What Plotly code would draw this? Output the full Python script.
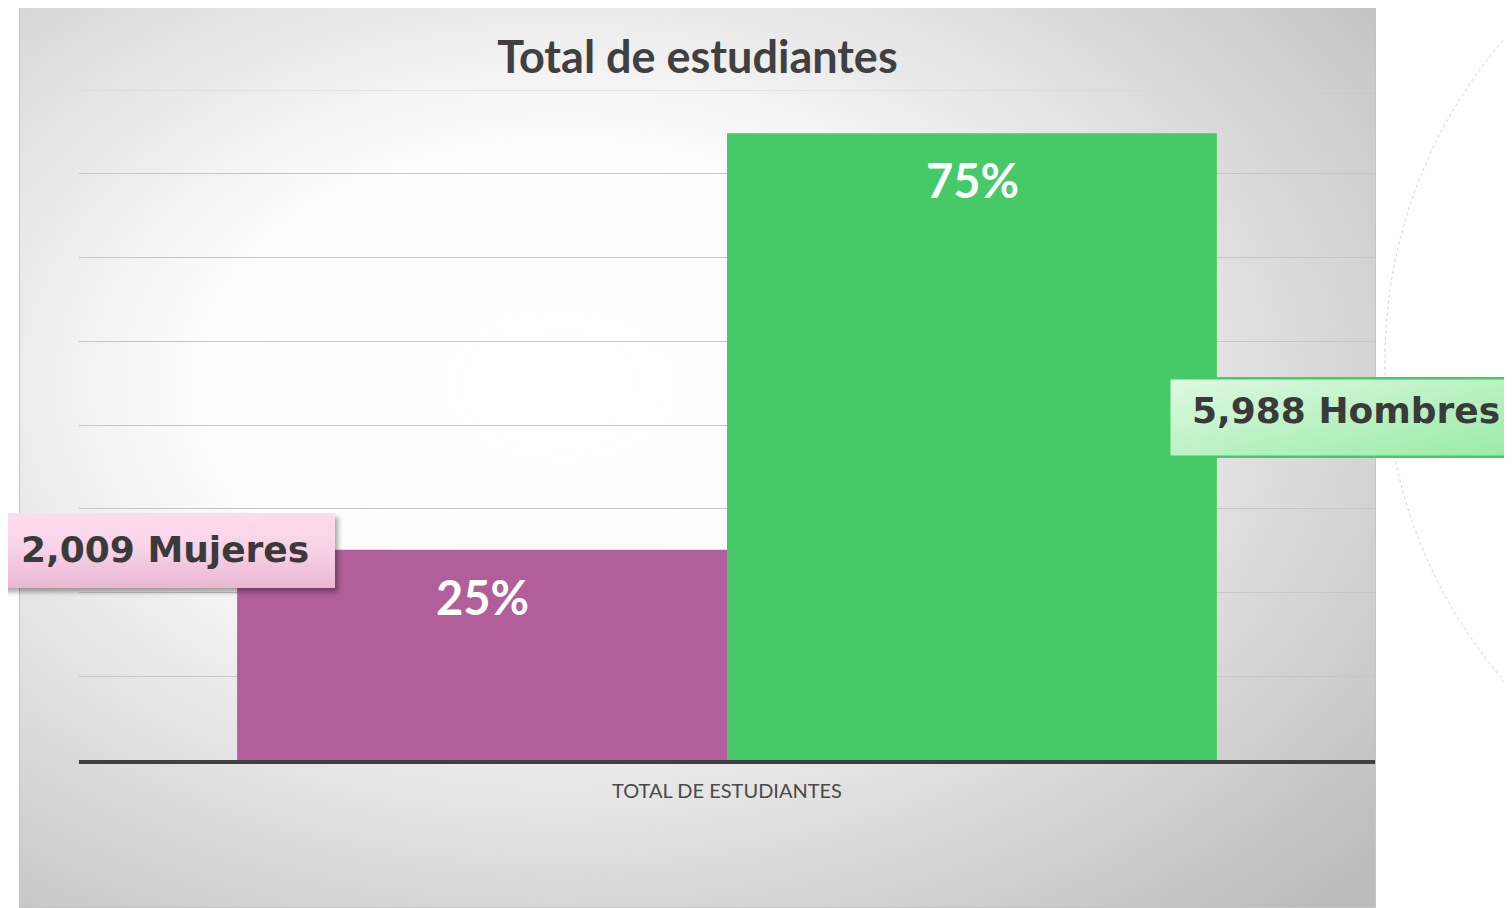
import base64
import plotly.graph_objects as go

# datos
categoria = ["TOTAL DE ESTUDIANTES"]
series = ["Mujeres", "Hombres"]
valores = [2009, 5988]
colores = ["#B15E9B", "#46CA67"]

total = sum(valores)
porcentajes = [round(v / total * 100) for v in valores]

# la página añade 8 px de margen, así que todo se mide en pantalla y se resta OFF
OFF = 8
W, H = 1512, 908
L, R, T, B = 79 - OFF, W - (1375 - OFF), 90 - OFF, H - (760 - OFF)
PW, PH = W - L - R, H - T - B


def px_x(p):
    return (p - OFF - L) / PW


def px_y(p):
    return (H - B - (p - OFF)) / PH


def svg_uri(svg):
    return "data:image/svg+xml;base64," + base64.b64encode(svg.encode()).decode()


fondo = """<svg xmlns='http://www.w3.org/2000/svg' width='1357' height='903' viewBox='0 0 1357 903' preserveAspectRatio='none'>
<defs><radialGradient id='g' cx='0.40' cy='0.42' r='0.8'>
<stop offset='0' stop-color='#ffffff'/><stop offset='0.33' stop-color='#fdfdfd'/>
<stop offset='1' stop-color='#bcbcbc'/></radialGradient></defs>
<rect x='0.5' y='0.5' width='1356' height='902' fill='url(#g)' stroke='#c4c4c4'/></svg>"""

caja_rosa = """<svg xmlns='http://www.w3.org/2000/svg' width='345' height='85' viewBox='0 0 345 85' preserveAspectRatio='none'>
<defs><linearGradient id='p' x1='0' y1='0' x2='0' y2='1'>
<stop offset='0' stop-color='#fcdcee'/><stop offset='0.5' stop-color='#f8d2e6'/><stop offset='1' stop-color='#e9b6d2'/></linearGradient>
<filter id='s' x='-10%' y='-20%' width='120%' height='150%'><feGaussianBlur stdDeviation='2.5'/></filter></defs>
<rect x='3' y='4' width='335' height='75' fill='rgba(0,0,0,0.35)' filter='url(#s)'/>
<rect x='0' y='0' width='335' height='75' fill='url(#p)'/></svg>"""

caja_verde = """<svg xmlns='http://www.w3.org/2000/svg' width='344' height='81' viewBox='0 0 344 81' preserveAspectRatio='none'>
<defs><linearGradient id='v' x1='0' y1='0' x2='1' y2='1'>
<stop offset='0' stop-color='#dff9e2'/><stop offset='1' stop-color='#98eba6'/></linearGradient></defs>
<rect x='1.25' y='1.25' width='343' height='78.5' fill='url(#v)' stroke='#46CA67' stroke-width='2.5'/></svg>"""

fig = go.Figure()
for s, v, c in zip(series, valores, colores):
    fig.add_trace(go.Bar(x=categoria, y=[v], name=s, marker_color=c, marker_line_width=0))

# porcentajes dentro de las barras
for i, p in enumerate(porcentajes):
    fig.add_annotation(
        x=categoria[0], y=valores[i], xref="x", yref="y",
        text=f"<b>{p}%</b>", showarrow=False,
        xshift=-245 if i == 0 else 245, yshift=-17, yanchor="top",
        font=dict(family="Lato", size=47, color="white"),
    )

# etiquetas de valor
fig.add_annotation(
    x=px_x(165), y=valores[0], xref="paper", yref="y",
    text=f"<b>{valores[0]:,} {series[0]}</b>", showarrow=False,
    xanchor="center", yanchor="middle",
    font=dict(family="DejaVu Sans", size=36, color="#3a3a3a"),
)
fig.add_annotation(
    x=px_x(1346), y=px_y(410), xref="paper", yref="paper",
    text=f"<b>{valores[1]:,} {series[1]}</b>", showarrow=False,
    xanchor="center", yanchor="middle",
    font=dict(family="DejaVu Sans", size=36, color="#3a3a3a"),
)

fig.update_layout(
    images=[
        dict(source=svg_uri(fondo), xref="paper", yref="paper",
             x=px_x(19), y=px_y(5), sizex=1357 / PW, sizey=903 / PH,
             xanchor="left", yanchor="top", sizing="stretch", layer="below"),
        dict(source=svg_uri(caja_rosa), xref="paper", yref="paper",
             x=px_x(0), y=px_y(513), sizex=345 / PW, sizey=85 / PH,
             xanchor="left", yanchor="top", sizing="stretch", layer="above"),
        dict(source=svg_uri(caja_verde), xref="paper", yref="paper",
             x=px_x(1168), y=px_y(377), sizex=344 / PW, sizey=81 / PH,
             xanchor="left", yanchor="top", sizing="stretch", layer="above"),
    ],
    shapes=[
        dict(type="circle", xref="paper", yref="paper", layer="below",
             x0=px_x(1385), x1=px_x(2369), y0=px_y(852), y1=px_y(-132),
             line=dict(color="#d4d4d4", width=1, dash="dot")),
        # línea superior de la cuadrícula
        dict(type="line", xref="paper", yref="y", layer="below",
             x0=0, x1=1, y0=6400, y1=6400,
             line=dict(color="#d6d6d6", width=1)),
    ],
    width=W, height=H,
    margin=dict(l=L, r=R, t=T, b=B),
    paper_bgcolor="white",
    plot_bgcolor="rgba(0,0,0,0)",
    showlegend=False,
    barmode="group",
    bargap=0.244,
    bargroupgap=0,
    title=dict(text="<b>Total de estudiantes</b>", x=(697.5 - OFF) / W, y=1 - (57 - OFF) / H,
               xanchor="center", yanchor="middle",
               font=dict(family="Lato", size=45, color="#404040")),
    xaxis=dict(showline=True, linecolor="#404040", linewidth=4, ticks="",
               ticklabelstandoff=10,
               tickfont=dict(family="Lato", size=20, color="#4a4a4a"), fixedrange=True),
    yaxis=dict(range=[0, 6400], dtick=800, showticklabels=False, zeroline=False,
               gridcolor="#c6c6c6", gridwidth=1, fixedrange=True),
)

fig.write_html("out.html")
